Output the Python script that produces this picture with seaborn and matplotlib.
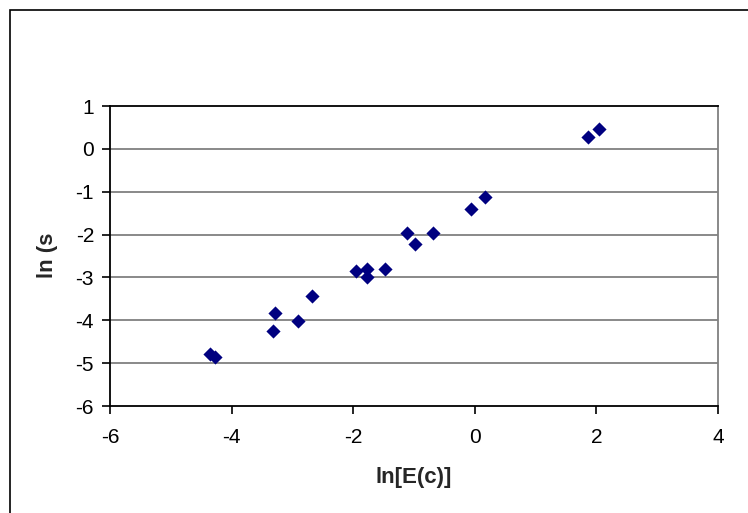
import matplotlib
matplotlib.use("Agg")
import matplotlib.pyplot as plt
import seaborn as sns
import pandas as pd
from matplotlib.patches import Rectangle

# Data
ln_E = [2.04, 1.87, 0.17, -0.06, -1.11, -0.68, -0.98, -1.96, -1.77, -1.77,
        -1.47, -2.67, -3.28, -2.91, -3.32, -4.35, -4.27]
ln_s = [0.46, 0.27, -1.13, -1.41, -1.97, -1.97, -2.22, -2.85, -2.80, -3.00,
        -2.81, -3.43, -3.82, -4.01, -4.25, -4.79, -4.85]
x_ticks = [-6, -4, -2, 0, 2, 4]
y_ticks = [-6, -5, -4, -3, -2, -1, 0, 1]

df = pd.DataFrame({"x": ln_E, "y": ln_s})

sns.set_style("white")
plt.rcParams["font.family"] = ["Liberation Sans", "DejaVu Sans"]
plt.rcParams["axes.unicode_minus"] = False

W, H = 748, 513
fig = plt.figure(figsize=(W / 100, H / 100), dpi=100)
ax = fig.add_axes([110 / W, 1 - 406 / H, 608 / W, 300 / H])

# outer chart border (cut off on right and bottom)
fig.patches.append(Rectangle((10 / W, -0.05), 1.2, 1 - 10 / H + 0.05,
                             transform=fig.transFigure, fill=False,
                             edgecolor="black", linewidth=1.2))

for yv in y_ticks[1:-1]:
    ax.axhline(yv, color="#808080", linewidth=1.3, zorder=0)

sns.scatterplot(data=df, x="x", y="y", marker="D", color="#000080",
                s=52, linewidth=0, ax=ax, zorder=3)

ax.set_xlim(-6, 4)
ax.set_ylim(-6, 1)
ax.set_xticks(x_ticks)
ax.set_yticks(y_ticks)
ax.set_xticklabels([str(v) for v in x_ticks])
ax.set_yticklabels([str(v) for v in y_ticks])

for side in ["left", "bottom", "top"]:
    ax.spines[side].set_color("black")
    ax.spines[side].set_linewidth(1.3)
ax.spines["right"].set_color("#808080")
ax.spines["right"].set_linewidth(1.3)

ax.tick_params(axis="both", direction="out", length=5.5, width=1.2,
               color="black", labelsize=15, labelcolor="black")
ax.tick_params(axis="y", left=True, pad=6)
ax.tick_params(axis="x", bottom=True, pad=10)

ax.set_xlabel("ln[E(c)]", fontsize=16, fontweight="bold")
ax.set_ylabel("ln (s", fontsize=16, fontweight="bold")
ax.xaxis.set_label_coords(0.5, -(478 - 406) / 300)
ax.xaxis.label.set_va("center")
ax.yaxis.set_label_coords((47 - 110) / 608, (406 - 255) / 300)
ax.yaxis.label.set_va("center")

fig.savefig("out.png", dpi=100)
